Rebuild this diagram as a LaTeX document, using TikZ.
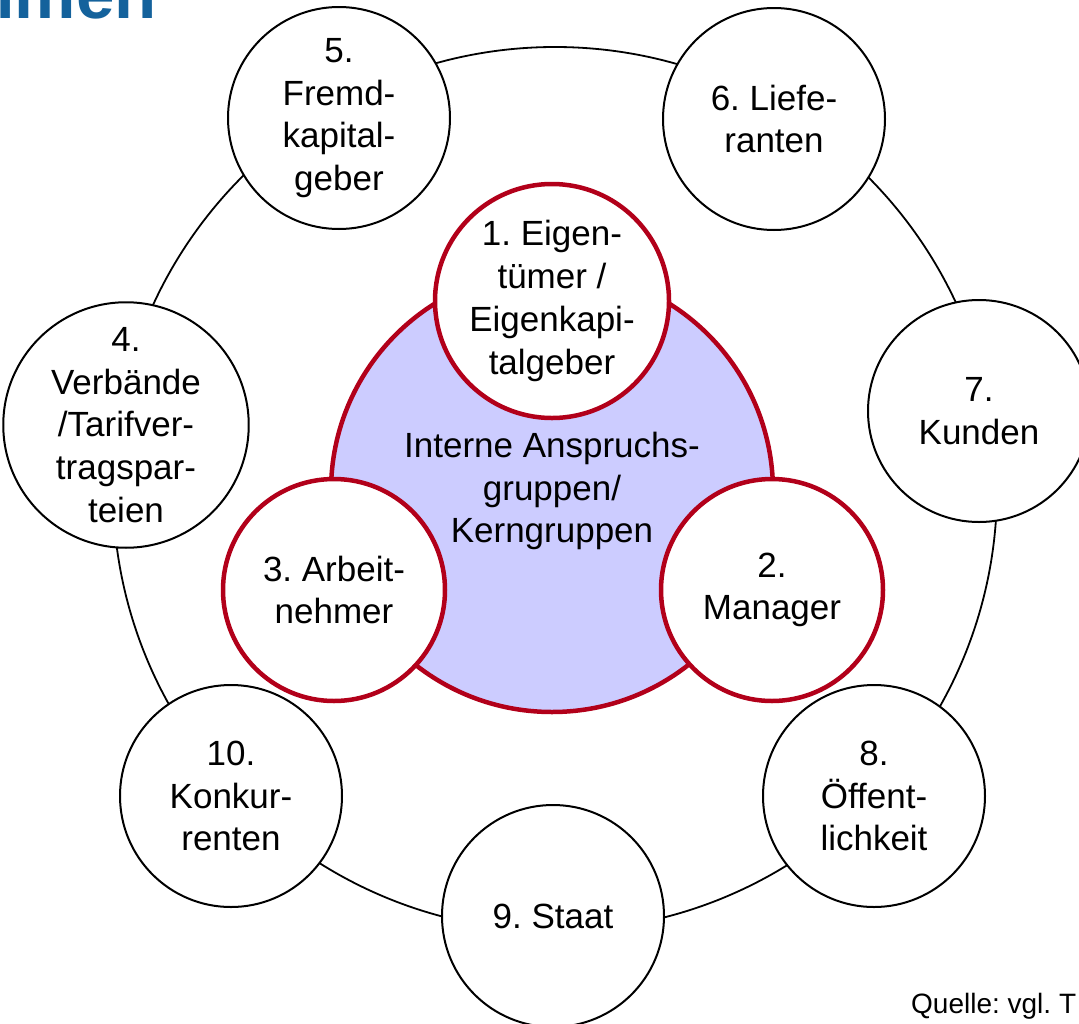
\documentclass[tikz,border=0pt]{standalone}
\usepackage{fontspec}
\setmainfont{Liberation Sans}
\frenchspacing
\definecolor{ringred}{RGB}{178,0,26}
\definecolor{corefill}{RGB}{204,204,255}
\definecolor{titleblue}{RGB}{20,98,156}

\begin{document}
\begin{tikzpicture}[x=1pt,y=-1pt,
  every node/.style={font=\fontsize{35pt}{42.8pt}\selectfont, align=center, inner sep=0pt},
  outer/.style={circle, draw=black, line width=2pt, fill=white, minimum size=222pt},
  core/.style={circle, draw=ringred, line width=4.5pt, fill=white, minimum size=222pt},
  hubdisc/.style={circle, draw=ringred, line width=4.5pt, fill=corefill, minimum size=442pt},
]
\useasboundingbox (0,0) rectangle (1079,1023);
\clip (0,0) rectangle (1079,1023);
\fill[white] (0,0) rectangle (1079,1023);

% heading fragment and source line
\node[anchor=base east, font=\fontsize{69pt}{80pt}\selectfont\bfseries, text=titleblue] (title) at (157,18) {hmen};
\node[anchor=base west, font=\fontsize{28pt}{34pt}\selectfont] (src) at (911,1013) {Quelle: vgl. T};

% ring of external stakeholders
\coordinate (hub) at (555,489);
\draw[line width=1.8pt] (hub) circle[radius=442pt];

\node[outer] (g5)  at (339,118) {5.\\Fremd-\\kapital-\\geber};
\node[outer] (g6)  at (774,119) {6. Liefe-\\ranten};
\node[outer] (g7)  at (979,411) {7.\\Kunden};
\node[outer] (g8)  at (874,796) {8.\\Öffent-\\lichkeit};
\node[outer] (g9)  at (553,916) {9. Staat};
\node[outer] (g10) at (231,796) {10.\\Konkur-\\renten};
\node[outer] (g4)  at (126,425) {4.\\Verbände\\/Tarifver-\\tragspar-\\teien};

% internal core groups
\node[hubdisc] (core) at (552,491) {Interne Anspruchs-\\gruppen/\\Kerngruppen};
\node[core, minimum size=234pt] (g1) at (552,301) {1. Eigen-\\tümer /\\Eigenkapi-\\talgeber};
\node[core] (g2) at (772,590) {2.\\Manager};
\node[core] (g3) at (334,590) {3. Arbeit-\\nehmer};
\end{tikzpicture}
\end{document}
